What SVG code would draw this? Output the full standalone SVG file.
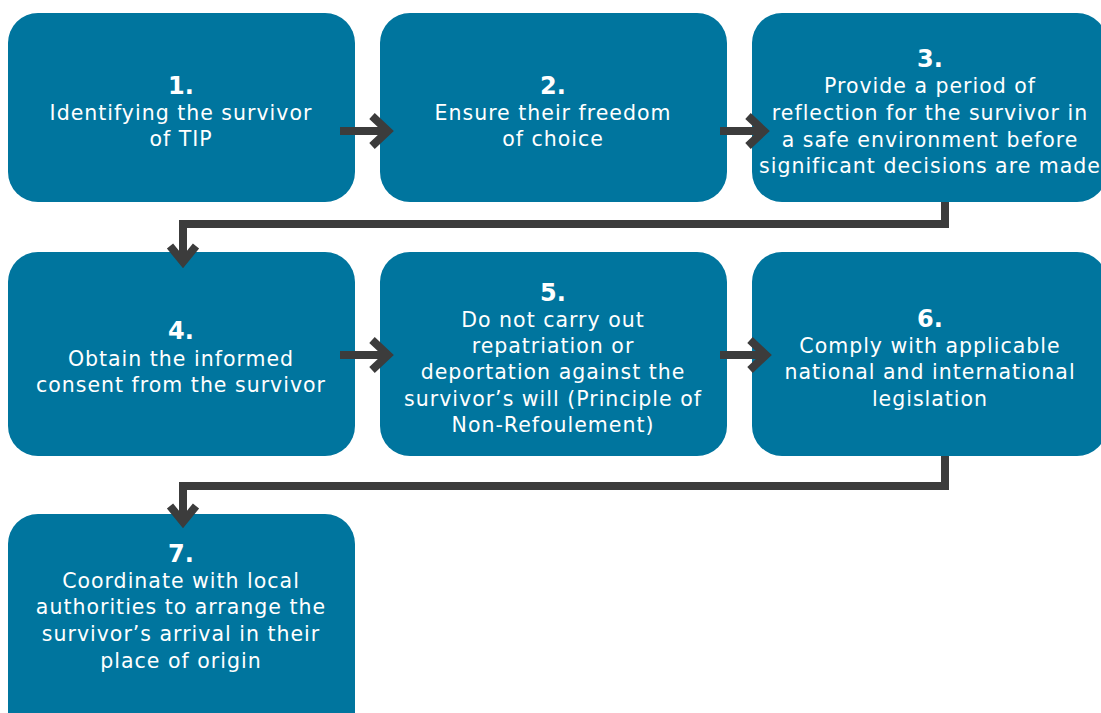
<svg xmlns="http://www.w3.org/2000/svg" width="1101" height="713" viewBox="0 0 1101 713">
<style>
.box{fill:#00759E}
.t{font-family:"DejaVu Sans","Liberation Sans",sans-serif;font-size:20.5px;fill:#ffffff;text-anchor:middle;letter-spacing:1px}
.n{font-family:"DejaVu Sans","Liberation Sans",sans-serif;font-size:24px;font-weight:900;fill:#ffffff;text-anchor:middle}
.c{fill:none;stroke:#3C3C3C;stroke-width:8}
</style>
<rect width="1101" height="713" fill="#ffffff"/>
<g id="node1"><rect class="box" x="8" y="13" width="347" height="189" rx="30"/>
<text class="n" x="181" y="94">1.</text>
<text class="t" x="181" y="120">Identifying the survivor</text>
<text class="t" x="181" y="146">of TIP</text></g>
<g id="node2"><rect class="box" x="380" y="13" width="347" height="189" rx="30"/>
<text class="n" x="553" y="94">2.</text>
<text class="t" x="553" y="120">Ensure their freedom</text>
<text class="t" x="553" y="146">of choice</text></g>
<g id="node3"><rect class="box" x="752" y="13" width="355" height="189" rx="30"/>
<text class="n" x="930" y="67">3.</text>
<text class="t" x="930" y="93">Provide a period of</text>
<text class="t" x="930" y="120">reflection for the survivor in</text>
<text class="t" x="930" y="147">a safe environment before</text>
<text class="t" x="930" y="173">significant decisions are made</text></g>
<g id="node4"><rect class="box" x="8" y="252" width="347" height="204" rx="30"/>
<text class="n" x="181" y="339">4.</text>
<text class="t" x="181" y="366">Obtain the informed</text>
<text class="t" x="181" y="392">consent from the survivor</text></g>
<g id="node5"><rect class="box" x="380" y="252" width="347" height="204" rx="30"/>
<text class="n" x="553" y="301">5.</text>
<text class="t" x="553" y="327">Do not carry out</text>
<text class="t" x="553" y="353">repatriation or</text>
<text class="t" x="553" y="379">deportation against the</text>
<text class="t" x="553" y="406">survivor’s will (Principle of</text>
<text class="t" x="553" y="432">Non-Refoulement)</text></g>
<g id="node6"><rect class="box" x="752" y="252" width="355" height="204" rx="30"/>
<text class="n" x="930" y="327">6.</text>
<text class="t" x="930" y="353">Comply with applicable</text>
<text class="t" x="930" y="379">national and international</text>
<text class="t" x="930" y="406">legislation</text></g>
<g id="node7"><rect class="box" x="8" y="514" width="347" height="230" rx="30"/>
<text class="n" x="181" y="562">7.</text>
<text class="t" x="181" y="588">Coordinate with local</text>
<text class="t" x="181" y="614">authorities to arrange the</text>
<text class="t" x="181" y="641">survivor’s arrival in their</text>
<text class="t" x="181" y="668">place of origin</text></g>
<g id="connectors">
<path class="c" d="M340 131H388M372 116L388 131L372 146"/>
<path class="c" d="M720 131H764M748 116L764 131L748 146"/>
<path class="c" d="M945 202V224H183V260M170 246L183 262L196 246"/>
<path class="c" d="M340 355H388M372 340L388 355L372 370"/>
<path class="c" d="M720 355H766M750 340L766 355L750 370"/>
<path class="c" d="M945 456V486H183V520M170 506L183 522L196 506"/>
</g>
</svg>
